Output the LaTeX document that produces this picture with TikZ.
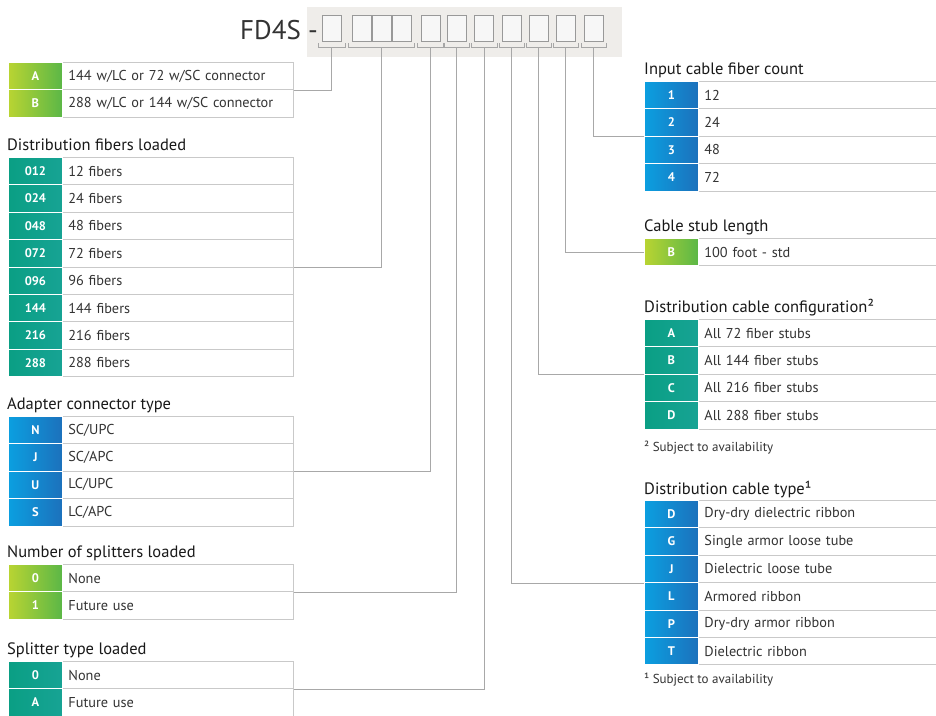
\documentclass[tikz,border=0pt]{standalone}
\usepackage{fontspec}
\setmainfont{PT Sans}
\definecolor{grnL}{HTML}{B9D432}
\definecolor{grnR}{HTML}{5BB747}
\definecolor{tealL}{HTML}{0A9F84}
\definecolor{tealR}{HTML}{17A394}
\definecolor{bluL}{HTML}{0B9FE0}
\definecolor{bluR}{HTML}{1C71BC}
\definecolor{cellline}{HTML}{C9C9C9}
\definecolor{conn}{HTML}{A8A8A8}
\definecolor{txt}{HTML}{333333}
\definecolor{hdrbg}{HTML}{EFEDEA}
\newcommand\mktable[6]{%
  \foreach \cd/\tx [count=\i] in {#6}{%
    \node[desccell, text width=#5] (#1t\i) at ({#2+54}, {#3+(\i-1)*27.4}) {\tx};
    \node[codecell,#4] (#1c\i) at (#2, {#3+(\i-1)*27.4}) {\cd};
  }}
\begin{document}
\begin{tikzpicture}[x=1pt,y=-1pt,
  codecell/.style={minimum width=54pt, minimum height=27.4pt, inner sep=0pt,
    anchor=north west, text=white, font=\bfseries\fontsize{12.5}{13}\selectfont,
    draw=white, line width=0.8pt},
  greencell/.style={left color=grnL, right color=grnR},
  tealcell/.style={left color=tealL, right color=tealR},
  bluecell/.style={left color=bluL, right color=bluR},
  desccell/.style={minimum height=27.4pt, inner xsep=6pt, inner ysep=0pt,
    anchor=north west, align=left, text=txt, draw=cellline, line width=0.8pt,
    font=\fontsize{14.3}{16}\selectfont},
  ttl/.style={anchor=base west, inner sep=0pt, text=black!90,
    font=\fontsize{16.5}{18}\selectfont},
  fnote/.style={anchor=base west, inner sep=0pt, text=txt,
    font=\fontsize{13}{14}\selectfont},
  slot/.style={draw=black!40, fill=white!97!black, line width=1pt},
  brk/.style={draw=black!35, line width=1pt},
  link/.style={draw=conn, line width=0.9pt}]
\useasboundingbox (0,0) rectangle (936,715);
\clip (0,0) rectangle (936,715);
\fill[white] (0,0) rectangle (936,715);

% header
\fill[hdrbg] (307,7) rectangle (622,57);
\node[anchor=east, inner sep=0pt, text=txt, font=\fontsize{27}{30}\selectfont] (title) at (318,30) {FD4S -};
\foreach \x [count=\k] in {322,352,372,392,421,447,474,502,529,556,584}
  \draw[slot] (\x,15) rectangle ++(19,26);
\foreach \a/\b [count=\k] in {318/345,348/414,417/443,444/469,471/497,499/524,526/551,553/578,581/606}{
  \draw[brk] (\a,43) -- (\a,47) -- (\b,47) -- (\b,43);
  \coordinate (b\k) at ({(\a+\b)/2},47);
}

% left tables
\mktable{La}{8}{62}{greencell}{219pt}{A/{144 w/LC or 72 w/SC connector}, B/{288 w/LC or 144 w/SC connector}}
\node[ttl] (tLb) at (7,150) {Distribution fibers loaded};
\mktable{Lb}{8}{157}{tealcell}{219pt}{012/12 fibers,024/24 fibers,048/48 fibers,072/72 fibers,096/96 fibers,144/144 fibers,216/216 fibers,288/288 fibers}
\node[ttl] (tLc) at (7,409) {Adapter connector type};
\mktable{Lc}{8}{416}{bluecell}{219pt}{N/{SC/UPC},J/{SC/APC},U/{LC/UPC},S/{LC/APC}}
\node[ttl] (tLd) at (7,557) {Number of splitters loaded};
\mktable{Ld}{8}{564}{greencell}{219pt}{0/None,1/Future use}
\node[ttl] (tLe) at (7,654) {Splitter type loaded};
\mktable{Le}{8}{661}{tealcell}{219pt}{0/None,A/Future use}

% right tables
\node[ttl] (tRa) at (644,74) {Input cable fiber count};
\mktable{Ra}{644}{81}{bluecell}{248pt}{1/12,2/24,3/48,4/72}
\node[ttl] (tRb) at (644,231) {Cable stub length};
\mktable{Rb}{644}{238}{greencell}{248pt}{B/100 foot - std}
\node[ttl] (tRc) at (644,312) {Distribution cable configuration²};
\mktable{Rc}{644}{319}{tealcell}{248pt}{A/All 72 fiber stubs,B/All 144 fiber stubs,C/All 216 fiber stubs,D/All 288 fiber stubs}
\node[fnote] (fRc) at (644,451) {² Subject to availability};
\node[ttl] (tRd) at (644,494) {Distribution cable type¹};
\mktable{Rd}{644}{500}{bluecell}{248pt}{D/Dry-dry dielectric ribbon,G/Single armor loose tube,J/Dielectric loose tube,L/Armored ribbon,P/Dry-dry armor ribbon,T/Dielectric ribbon}
\node[fnote] (fRd) at (644,683) {¹ Subject to availability};

% connectors
\draw[link] (b1) |- (Lat1.south east);
\draw[link] (b2) |- (Lbt4.south east);
\draw[link] (b3) |- (Lct2.south east);
\draw[link] (b4) |- (Ldt1.south east);
\draw[link] (b5) |- (Let1.south east);
\draw[link] (b6) |- (Rdc3.south west);
\draw[link] (b7) |- (Rcc2.south west);
\draw[link] (b8) |- (Rbc1.west);
\draw[link] (b9) |- (Rac2.south west);
\end{tikzpicture}
\end{document}
